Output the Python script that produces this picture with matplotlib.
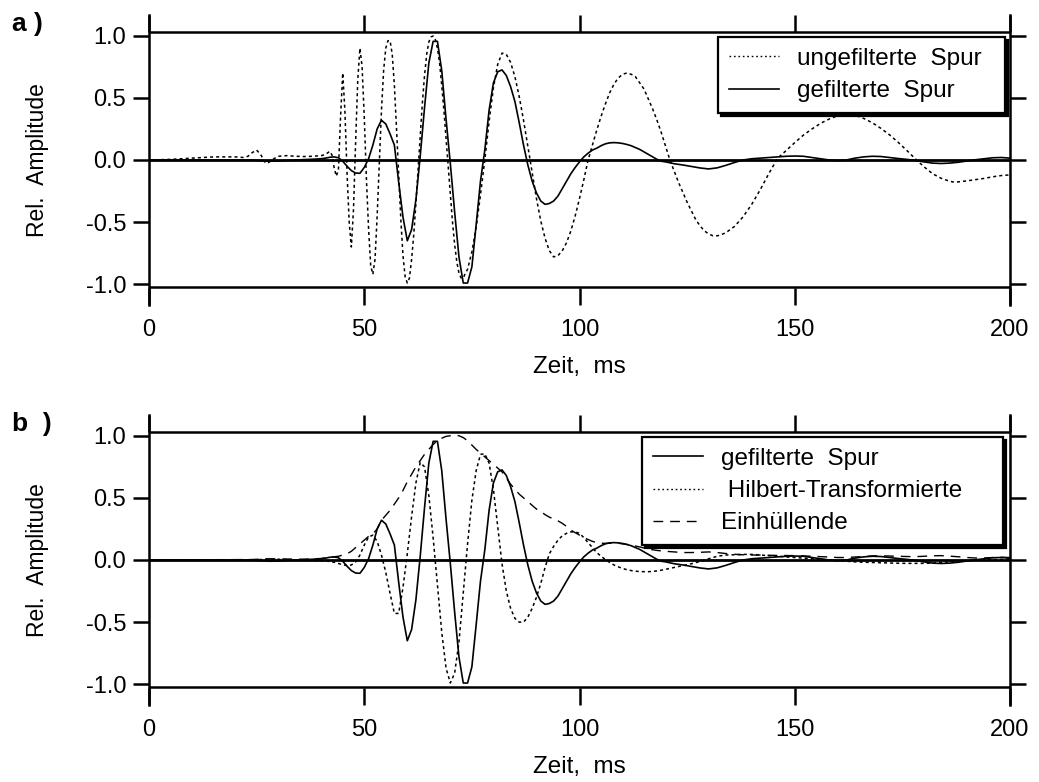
import matplotlib
matplotlib.use("Agg")
import matplotlib.pyplot as plt
from matplotlib.lines import Line2D

plt.rcParams['font.family'] = ['Liberation Sans', 'DejaVu Sans']

# ---------------- data ----------------
# unfiltered trace (panel a, dotted)
t_unf = [0, 5, 10, 15, 20, 22, 23, 24, 25, 26, 27, 27.5, 28, 29, 30, 32, 34, 36, 38, 40, 41,
         42, 42.5, 43, 43.5, 44, 44.5, 45, 45.5, 46, 46.5, 47, 47.5, 48, 48.5, 49, 49.5,
         50, 50.5, 51, 51.5, 52, 52.5, 53, 53.5, 54, 54.5, 55, 55.5, 56, 56.5, 57, 57.5,
         58, 58.5, 59, 59.5, 60, 60.5, 61, 61.5, 62, 62.5, 63, 63.5, 64, 64.5, 65, 65.5,
         66, 66.5, 67, 67.5, 68, 68.5, 69, 69.5, 70, 70.5, 71, 71.5, 72, 72.5, 73, 73.5,
         74, 75, 76, 77, 78, 79, 80, 81, 82, 83, 84, 85, 86, 87, 88, 89, 90, 91, 92, 93,
         94, 95, 96, 97, 98, 99, 100, 101, 102, 103, 104, 105, 106, 107, 108, 109, 110,
         111, 112, 113, 114, 115, 116, 117, 118, 119, 120, 121, 122, 123, 124, 125, 126,
         127, 128, 129, 130, 131, 132, 133, 134, 136, 138, 140, 142, 144, 146, 148, 150,
         152, 154, 156, 158, 160, 162, 164, 166, 168, 170, 172, 174, 176, 178, 180, 182,
         184, 186, 187, 188, 190, 192, 194, 196, 198, 200]
v_unf = [0.0, 0.005, 0.015, 0.025, 0.025, 0.02, 0.03, 0.06, 0.08, 0.04, -0.02, -0.027, -0.015,
         0.01, 0.03, 0.035, 0.03, 0.028, 0.03, 0.035, 0.045,
         0.07, 0.04, -0.06, -0.13, -0.08, 0.35, 0.70, 0.40, -0.10, -0.50, -0.70, -0.40,
         0.15, 0.65, 0.90, 0.75, 0.35, -0.15, -0.55, -0.85, -0.92, -0.80, -0.45, -0.02,
         0.40, 0.72, 0.90, 0.96, 0.96, 0.85, 0.60, 0.25, -0.12, -0.48, -0.77, -0.94,
         -0.99, -0.95, -0.80, -0.60, -0.35, -0.08, 0.20, 0.46, 0.68, 0.85, 0.95, 0.99,
         0.998, 0.97, 0.90, 0.78, 0.60, 0.40, 0.18, -0.05, -0.28, -0.50, -0.68, -0.82,
         -0.91, -0.95, -0.95, -0.91, -0.88, -0.74, -0.54, -0.28, 0.0, 0.31, 0.58, 0.77,
         0.86, 0.85, 0.785, 0.67, 0.51, 0.32, 0.11, -0.105, -0.31, -0.49, -0.63, -0.73,
         -0.78, -0.77, -0.73, -0.665, -0.57, -0.45, -0.31, -0.16, 0.0, 0.12, 0.24, 0.35,
         0.45, 0.54, 0.61, 0.66, 0.69, 0.70, 0.69, 0.67, 0.62, 0.57, 0.49, 0.41, 0.32,
         0.22, 0.11, 0.0, -0.09, -0.18, -0.26, -0.34, -0.41, -0.48, -0.53, -0.57, -0.595,
         -0.61, -0.61, -0.60, -0.585, -0.535, -0.457, -0.357, -0.238, -0.108, 0.014, 0.076,
         0.14, 0.20, 0.25, 0.295, 0.33, 0.356, 0.368, 0.36, 0.335, 0.30, 0.255, 0.203,
         0.143, 0.078, 0.01, -0.054, -0.11, -0.147, -0.171, -0.178, -0.176, -0.168, -0.158,
         -0.148, -0.135, -0.125, -0.12]

# filtered trace (panels a and b, solid)
t_filt = [0, 4, 8, 12, 16, 20, 22, 24, 26, 28, 30, 32, 34, 36, 38, 40, 41, 42, 43, 44, 45,
          46, 47, 48, 49, 50, 51, 52, 53, 54, 55, 56, 57, 58, 59, 60, 61, 62, 63, 64, 65,
          66, 67, 68, 69, 70, 71, 72, 73, 74, 75, 76, 77, 78, 79, 80, 81, 82, 83, 84, 85,
          86, 87, 88, 89, 90, 91, 92, 93, 94, 95, 96, 97, 98, 99, 100, 101, 102, 103, 104,
          105, 106, 107, 108, 109, 110, 111, 112, 113, 114, 115, 116, 117, 118, 119, 120,
          122, 124, 126, 128, 130, 132, 134, 136, 138, 140, 142, 144, 146, 148, 150, 152,
          154, 156, 158, 160, 162, 164, 166, 168, 170, 172, 174, 176, 178, 180, 182, 184,
          186, 188, 190, 192, 194, 196, 198, 200]
v_filt = [0.0, 0.0, 0.0, 0.0, 0.0, 0.0, 0.0, 0.0, -0.005, -0.01, -0.008, -0.004, 0.0, 0.003,
          0.006, 0.01, 0.015, 0.022, 0.025, 0.018, -0.01,
          -0.05, -0.085, -0.105, -0.107, -0.06, 0.01, 0.12, 0.25, 0.32, 0.29, 0.21, 0.12,
          -0.18, -0.46, -0.65, -0.56, -0.32, 0.03, 0.42, 0.78,
          0.955, 0.955, 0.72, 0.33, -0.03, -0.42, -0.78, -0.99, -0.99, -0.86, -0.52, -0.17,
          0.08, 0.40, 0.62, 0.71, 0.725, 0.68, 0.59, 0.47,
          0.30, 0.12, -0.04, -0.17, -0.265, -0.33, -0.357, -0.35, -0.33, -0.29, -0.23, -0.17,
          -0.11, -0.06, -0.015, 0.025, 0.055, 0.08, 0.095,
          0.115, 0.13, 0.138, 0.14, 0.138, 0.133, 0.125, 0.115, 0.10, 0.085, 0.065, 0.045,
          0.025, 0.005, -0.01, -0.015,
          -0.03, -0.04, -0.052, -0.064, -0.072, -0.063, -0.043, -0.02, 0.0, 0.01, 0.015,
          0.02, 0.025, 0.03, 0.032, 0.03,
          0.02, 0.01, 0.0, -0.005, 0.0, 0.015, 0.025, 0.03, 0.028, 0.02, 0.012, 0.005,
          -0.003, -0.015, -0.025, -0.028,
          -0.025, -0.018, -0.008, 0.002, 0.01, 0.018, 0.02, 0.015]

# Hilbert transform (panel b, dotted)
t_hil = [0, 10, 20, 24, 26, 28, 30, 32, 34, 36, 38, 40, 41, 42, 43, 44, 45, 46, 47, 48, 49,
         50, 51, 52, 53, 54, 55, 56, 57, 58, 59, 60, 61, 62, 63, 64, 65, 66, 67, 68, 69,
         70, 71, 72, 73, 74, 75, 76, 77, 78, 79, 80, 81, 82, 83, 84, 85, 86, 87, 88, 89,
         90, 91, 92, 93, 94, 95, 96, 97, 98, 99, 100, 101, 102, 103, 104, 105, 106, 107,
         108, 109, 110, 111, 112, 113, 114, 115, 116, 117, 118, 119, 120, 122, 124, 126,
         128, 130, 132, 134, 136, 138, 140, 142, 144, 146, 148, 150, 152, 154, 156, 158,
         160, 162, 164, 166, 168, 170, 172, 174, 176, 178, 180, 182, 184, 186, 188, 190,
         192, 194, 196, 198, 200]
v_hil = [0.0, 0.0, 0.0, -0.003, 0.004, 0.008, 0.006, 0.002, -0.002, -0.004, -0.005, -0.006,
         -0.008, -0.012, -0.018, -0.028, -0.038, -0.045, -0.04, -0.015, 0.04,
         0.12, 0.185, 0.20, 0.15, 0.04, -0.10, -0.27, -0.43, -0.43, -0.22, 0.05, 0.35,
         0.62, 0.785, 0.75, 0.52, 0.18, -0.20, -0.58, -0.87,
         -0.99, -0.91, -0.66, -0.27, 0.13, 0.48, 0.72, 0.85, 0.855, 0.78, 0.57, 0.27,
         -0.03, -0.25, -0.39, -0.47, -0.50, -0.50, -0.46, -0.39,
         -0.30, -0.19, -0.06, 0.05, 0.11, 0.16, 0.195, 0.215, 0.226, 0.226, 0.215, 0.18,
         0.14, 0.10, 0.06, 0.03, 0.005, -0.02,
         -0.04, -0.055, -0.068, -0.078, -0.085, -0.09, -0.093, -0.094, -0.094, -0.092,
         -0.088, -0.082, -0.075, -0.06, -0.045, -0.03,
         -0.012, 0.01, 0.03, 0.04, 0.042, 0.045, 0.045, 0.04, 0.035, 0.03, 0.025, 0.02,
         0.015, 0.01, 0.005, 0.0,
         -0.005, -0.01, -0.015, -0.018, -0.02, -0.022, -0.024, -0.026, -0.027, -0.027,
         -0.027, -0.025, -0.02, -0.013, -0.008, -0.005,
         -0.003, 0.0, 0.003, 0.005, 0.005]

# envelope (panel b, dashed)
t_env = [0, 10, 20, 24, 28, 32, 36, 40, 42, 44, 46, 47, 48, 49, 50, 51, 52, 53, 54, 55, 56,
         57, 58, 59, 60, 61, 62, 63, 64, 65, 66, 67, 68, 69, 70, 71, 72, 73, 74, 75, 76,
         77, 78, 79, 80, 81, 82, 83, 84, 85, 86, 87, 88, 89, 90, 91, 92, 93, 94, 95, 96,
         97, 98, 99, 100, 101, 102, 103, 104, 105, 106, 107, 108, 109, 110, 112, 114, 116,
         118, 120, 122, 124, 126, 128, 130, 132, 134, 136, 138, 140, 142, 144, 146, 148,
         150, 152, 154, 156, 158, 160, 162, 164, 166, 168, 170, 172, 174, 176, 178, 180,
         182, 184, 186, 188, 190, 192, 194, 196, 198, 200]
v_env = [0.0, 0.002, 0.003, 0.004, 0.01, 0.008, 0.006, 0.012, 0.022, 0.03, 0.05, 0.07, 0.10,
         0.13, 0.16, 0.19, 0.21, 0.25, 0.32, 0.36, 0.40,
         0.45, 0.50, 0.56, 0.63, 0.69, 0.75, 0.80, 0.85, 0.89, 0.93, 0.96, 0.98, 0.995,
         1.0, 1.005, 1.0, 0.985, 0.96, 0.925, 0.89,
         0.86, 0.83, 0.80, 0.77, 0.74, 0.71, 0.66, 0.61, 0.57, 0.53, 0.50, 0.47, 0.44,
         0.41, 0.39, 0.365, 0.345, 0.33, 0.315, 0.295,
         0.27, 0.24, 0.22, 0.20, 0.18, 0.165, 0.15, 0.14, 0.135, 0.134, 0.135, 0.137,
         0.135, 0.13, 0.12, 0.105, 0.088,
         0.077, 0.07, 0.065, 0.06, 0.06, 0.062, 0.065, 0.06, 0.052, 0.046, 0.042, 0.04,
         0.04, 0.038, 0.037, 0.036,
         0.035, 0.033, 0.03, 0.027, 0.024, 0.02, 0.02, 0.024, 0.028, 0.033, 0.034, 0.032,
         0.03, 0.028, 0.027, 0.03,
         0.034, 0.035, 0.031, 0.026, 0.02, 0.016, 0.016, 0.02, 0.022, 0.02]

x_ticks = [0, 50, 100, 150, 200]
x_tick_labels = ['0', '50', '100', '150', '200']
y_ticks = [-1.0, -0.5, 0.0, 0.5, 1.0]
y_tick_labels = ['-1.0', '-0.5', '0.0', '0.5', '1.0']

x_label = 'Zeit,  ms'
y_label = 'Rel.  Amplitude'
labels_a = ['ungefilterte  Spur', 'gefilterte  Spur']
labels_b = ['gefilterte  Spur', ' Hilbert-Transformierte', 'Einhüllende']

# ---------------- figure ----------------
W, H = 1039, 782
fig = plt.figure(figsize=(W / 100, H / 100), dpi=100)


def make_axes(top_px):
    ax = fig.add_axes([149 / W, 1 - (top_px + 290) / H, 861 / W, 290 / H])
    ax.set_xlim(0, 200)
    ax.set_ylim(-1.167, 1.167)
    for s in ('top', 'bottom'):
        ax.spines[s].set_visible(False)
    for s in ('left', 'right'):
        ax.spines[s].set_linewidth(1.8)
    ax.axhline(1.027, color='k', lw=1.8, zorder=1)
    ax.axhline(-1.025, color='k', lw=1.8, zorder=1)
    ax.axhline(0.0, color='k', lw=2.0, zorder=1)
    ax.set_xticks(x_ticks)
    ax.set_xticklabels(x_tick_labels)
    ax.set_yticks(y_ticks)
    ax.set_yticklabels(y_tick_labels)
    ax.tick_params(axis='x', direction='in', length=12.5, width=1.8, top=True,
                   bottom=True, labelsize=17, pad=10.0)
    ax.tick_params(axis='y', direction='out', length=11.5, width=1.8, left=True,
                   right=True, labelsize=17, pad=5)
    ax.set_xlabel(x_label, fontsize=17.5)
    ax.xaxis.label.set_verticalalignment('center')
    ax.xaxis.set_label_coords(0.5, -0.214)
    ax.set_ylabel(y_label, fontsize=16.5)
    ax.yaxis.label.set_verticalalignment('center')
    ax.yaxis.set_label_coords(-0.129, 0.5)
    return ax


ax_a = make_axes(15)
ax_b = make_axes(415)

dot_a = (0, (2.0, 2.0))
ax_a.plot(t_unf, v_unf, color='k', lw=1.1, ls=dot_a, zorder=2)
ax_a.plot(t_filt, v_filt, color='k', lw=1.2, zorder=3)

ax_b.plot(t_filt, v_filt, color='k', lw=1.2, zorder=3)
ax_b.plot(t_hil, v_hil, color='k', lw=1.1, ls=dot_a, zorder=2)
ax_b.plot(t_env, v_env, color='k', lw=1.0, ls=(0, (7, 5)), zorder=2)

common = dict(loc='upper left', mode='expand', borderaxespad=0, fontsize=17.5,
              fancybox=False, framealpha=1, edgecolor='k', handlelength=2.06,
              handletextpad=0.74, borderpad=0.45, labelspacing=0.415,
              shadow={'ox': 2.3, 'oy': -2.3, 'color': 'k', 'alpha': 1})

h_a = [Line2D([], [], color='k', lw=1.0, ls=(0, (1.2, 2.0))),
       Line2D([], [], color='k', lw=1.2)]
leg_a = ax_a.legend(h_a, labels_a, bbox_to_anchor=(0.661, 0.3, 0.333, 0.624), **common)
leg_a.get_frame().set_linewidth(1.6)
leg_a.set_zorder(10)

h_b = [Line2D([], [], color='k', lw=1.2),
       Line2D([], [], color='k', lw=1.0, ls=(0, (1.2, 2.0))),
       Line2D([], [], color='k', lw=1.0, ls=(0, (7, 5)))]
leg_b = ax_b.legend(h_b, labels_b, bbox_to_anchor=(0.5726, 0.3, 0.4193, 0.624), **common)
leg_b.get_frame().set_linewidth(1.6)
leg_b.set_zorder(10)

fig.text(12 / W, 1 - 30.5 / H, 'a )', fontsize=19, fontweight='bold', va='baseline')
fig.text(12 / W, 1 - 431.5 / H, 'b  )', fontsize=19, fontweight='bold', va='baseline')

fig.savefig('out.png', dpi=100)
